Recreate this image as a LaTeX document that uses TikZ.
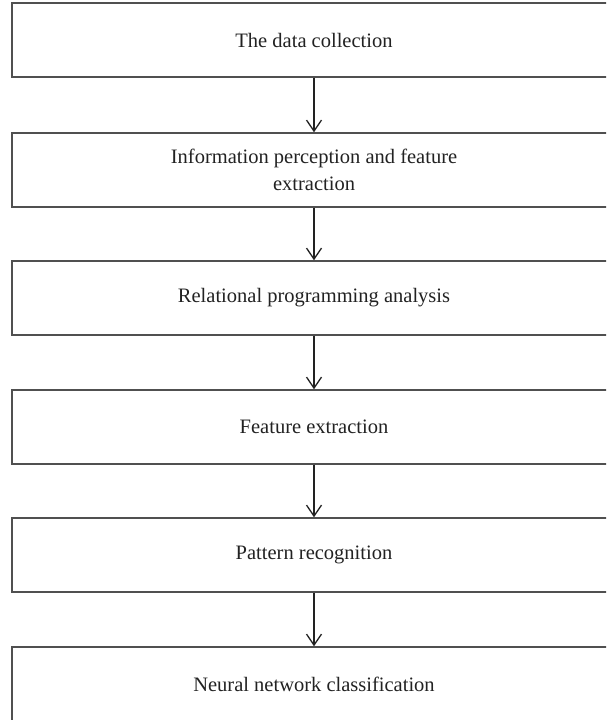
\documentclass[tikz,border=0pt]{standalone}
\usepackage{fontspec}
\setmainfont{Liberation Serif}
\usetikzlibrary{arrows.meta}
\definecolor{boxline}{HTML}{505050}
\definecolor{inkdark}{HTML}{222222}
\begin{document}
\begin{tikzpicture}[x=1pt,y=1pt,
  stepbox/.style={draw=boxline, line width=1.5pt, rectangle,
    minimum width=604pt, minimum height=74pt, inner sep=0pt,
    text=inkdark, align=center,
    font=\fontsize{20.5}{27}\selectfont},
  flow/.style={draw=inkdark, line width=1.3pt,
    -{Straight Barb[length=11pt,width=15pt,line width=1.3pt]}}]
\useasboundingbox (0,0) rectangle (606,720);
\clip (0,0) rectangle (606,720);
\node[stepbox] (s1) at (314,680) {The data collection};
\node[stepbox] (s2) at (314,550) {Information perception and feature\\extraction};
\node[stepbox] (s3) at (314,422) {Relational programming analysis};
\node[stepbox] (s4) at (314,293) {Feature extraction};
\node[stepbox] (s5) at (314,165) {Pattern recognition};
\node[stepbox] (s6) at (314,36) {Neural network classification};
\draw[flow] (s1.south) -- (s2.north);
\draw[flow] (s2.south) -- (s3.north);
\draw[flow] (s3.south) -- (s4.north);
\draw[flow] (s4.south) -- (s5.north);
\draw[flow] (s5.south) -- (s6.north);
\end{tikzpicture}
\end{document}
